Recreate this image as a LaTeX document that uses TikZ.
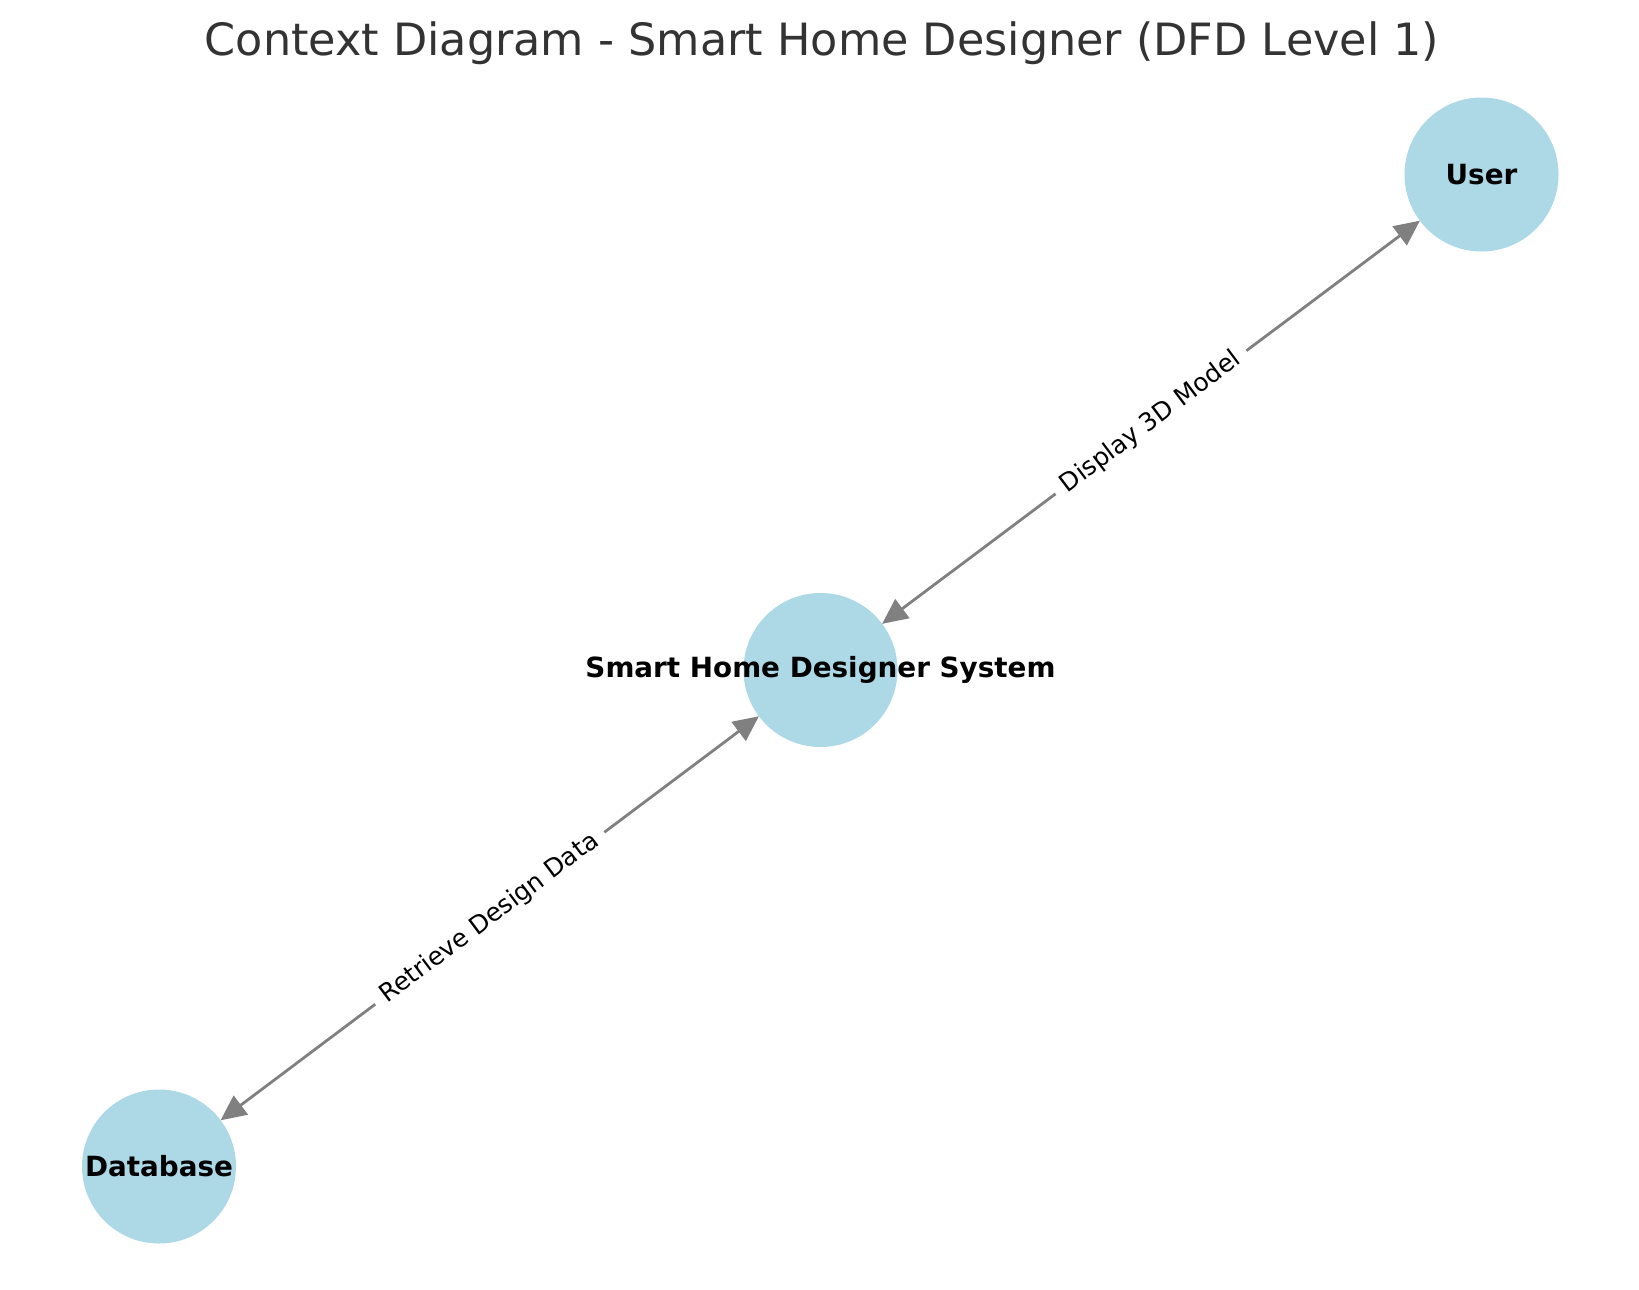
\documentclass[tikz,border=0pt]{standalone}
\usepackage{fontspec}
\setmainfont{DejaVu Sans}
\usetikzlibrary{arrows.meta}
\definecolor{nodeblue}{HTML}{ADD8E6}
\definecolor{edgegray}{HTML}{808080}
\definecolor{titlegray}{HTML}{333333}
\tikzset{
  circ/.style={circle, fill=nodeblue, draw=none, minimum size=77pt, inner sep=0pt, outer sep=0pt},
  nlabel/.style={font=\fontsize{13.9}{16}\selectfont\bfseries, text=black, inner sep=0pt},
  flow/.style={draw=edgegray, line width=1.4pt, {Triangle[length=12.7pt,width=11.7pt]}-{Triangle[length=12.7pt,width=11.7pt]}},
  elabel/.style={sloped, fill=white, inner xsep=5pt, inner ysep=3pt, font=\fontsize{12.5}{14}\selectfont, text=black},
  titlestyle/.style={font=\fontsize{22.25}{26}\selectfont, text=titlegray, inner sep=0pt, anchor=base}
}
\begin{document}
\begin{tikzpicture}[x=0.5pt, y=-0.5pt]
  \useasboundingbox[fill=white] (0,0) rectangle (1639,1290);
  \node[titlestyle] (title) at (822,55) {Context Diagram - Smart Home Designer (DFD Level 1)};
  \node[circ] (user) at (1481.5,174.5) {};
  \node[circ] (sys) at (820.5,670) {};
  \node[circ] (db) at (159,1166.5) {};
  \draw[flow] (sys) -- node[elabel] {Display 3D Model} (user);
  \draw[flow] (db) -- node[elabel] {Retrieve Design Data} (sys);
  \node[nlabel] (userlbl) at (user) {User};
  \node[nlabel] (syslbl) at (sys) {Smart Home Designer System};
  \node[nlabel] (dblbl) at (db) {Database};
\end{tikzpicture}
\end{document}
